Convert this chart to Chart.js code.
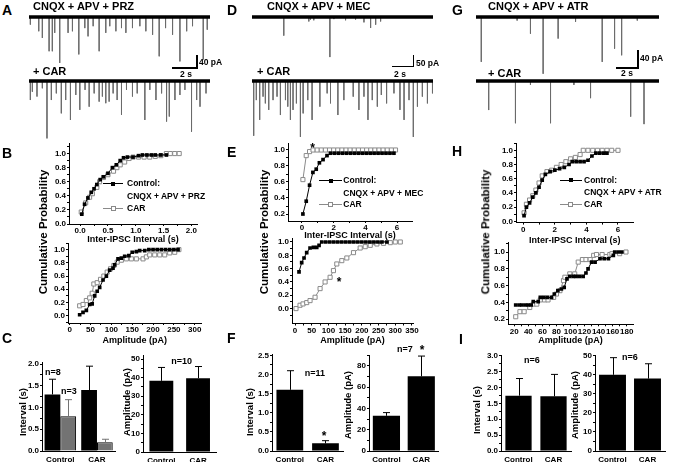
<!DOCTYPE html>
<html>
<head>
<meta charset="utf-8">
<script src="https://cdn.jsdelivr.net/npm/chart.js@4.4.1/dist/chart.umd.min.js"></script>
<style>
  body { margin: 0; background: #fff; }
  #fig { position: relative; width: 683px; height: 462px; overflow: hidden;
         font-family: "Liberation Sans", Arial, sans-serif; font-weight: bold; color: #000; }
  .t { position: absolute; white-space: nowrap; line-height: 1; }
  canvas { position: absolute; }
  .k { position: absolute; }
</style>
</head>
<body>
<div id="fig"></div>
<script>
'use strict';
// ---- sIPSC traces: event times (s) and amplitudes (pA) ----
const aTopTimes = [0.11,0.78,1.07,1.61,1.87,2.06,2.46,3.13,3.48,3.99,4.47,4.73,5.14,5.62,6.15,6.47,6.96,7.41,7.76,8.29,8.88,9.36,9.9,10.43,10.94,11.5,12.09,12.63,13.1,13.96,14.28];
const aTopAmps  = [24,45,66,108,108,50,145,50,45,118,35,61,29,108,50,29,45,35,50,35,29,45,56,124,35,56,140,45,29,134,40];
const aBotTimes = [0.11,0.27,0.64,1.07,1.44,1.79,2.19,2.59,2.94,3.32,3.75,4.07,4.49,4.82,5.22,5.62,5.88,6.15,6.42,6.74,7.06,7.41,7.81,8.29,8.67,9.28,9.68,10.17,10.62,11.02,11.24,11.69,12.09,12.49,13.02,13.43,13.7,14.18];
const aBotAmps  = [60,34,49,23,181,60,39,102,60,123,44,91,28,81,39,65,49,70,65,39,60,107,28,49,39,123,28,60,39,128,112,60,44,28,160,60,81,39];
const dTopTimes = [3.02,5.4,5.56,5.87,7.4,7.78,8.89,9.84,10.64,11.27,11.75,12.22];
const dTopAmps  = [80,19,11,14,172,9,14,11,23,47,33,19];
const dBotTimes = [0.16,0.41,0.73,1.05,1.27,1.59,2.0,2.38,2.7,3.18,3.4,3.65,3.9,4.22,4.6,4.86,5.3,5.71,6.45,7.14,7.46,8.16,8.73,9.62,10.16,10.64,11.02,11.43,11.91,12.29,12.79,13.49,14.06,14.45,14.92,15.33,15.72,16.19,16.67,17.15];
const dBotAmps  = [235,82,167,67,96,124,82,67,146,82,110,167,124,96,240,139,82,167,110,53,96,146,82,67,124,67,167,82,110,60,96,53,124,167,82,240,110,67,96,53];
const gTopTimes = [0.48,3.73,4.94,6.09,7.45,9.03,11.45,12.57,13.21,14.63];
const gTopAmps  = [102,8,38,129,49,11,102,72,87,8];
const gBotTimes = [1.15,3.58,4.94,6.76,8.88,10.39,14.03,15.24];
const gBotAmps  = [66,96,9,96,9,39,81,98];

// ---- cumulative distributions ----
const bIntCtrlX = [0.03,0.08,0.14,0.2,0.25,0.3,0.36,0.42,0.5,0.58,0.65,0.72,0.78,0.85,0.95,1.05,1.12,1.2,1.28,1.35,1.45,1.55];
const bIntCtrlY = [0.14,0.28,0.37,0.45,0.5,0.56,0.63,0.67,0.72,0.8,0.84,0.9,0.94,0.95,0.95,0.97,0.98,0.98,0.98,0.98,0.98,0.98];
const bIntCarX  = [0.02,0.1,0.17,0.22,0.3,0.35,0.42,0.5,0.6,0.66,0.72,0.8,0.88,0.95,1.05,1.15,1.25,1.35,1.45,1.55,1.62,1.7,1.78];
const bIntCarY  = [0.17,0.3,0.38,0.43,0.52,0.6,0.66,0.7,0.75,0.8,0.84,0.88,0.93,0.95,0.95,0.95,0.95,0.96,0.97,1,1,1,1];
const bAmpCtrlX = [24,32,40,48,54,60,66,72,80,88,96,104,108,116,124,132,142,150,160,168,180,190,200,210,220,230,240,250,260];
const bAmpCtrlY = [0.015,0.05,0.08,0.17,0.18,0.3,0.37,0.43,0.54,0.6,0.69,0.72,0.77,0.86,0.87,0.9,0.91,0.96,0.97,0.985,0.985,1,1,1,1,1,1,1,1];
const bAmpCarX  = [24,32,40,48,54,58,66,74,82,90,98,106,114,124,136,148,160,176,184,192,204,216,228,240,252,262];
const bAmpCarY  = [0.15,0.17,0.23,0.27,0.34,0.48,0.5,0.55,0.6,0.66,0.71,0.76,0.81,0.84,0.86,0.86,0.86,0.86,0.89,0.92,0.92,0.92,0.92,0.95,0.96,1];

const eIntCtrlX = [0.06,0.27,0.48,0.69,0.9,1.1,1.33,1.58,1.8,2.05,2.3,2.55,2.8,3.05,3.3,3.55,3.8,4.05,4.3,4.55,4.8,5.05,5.3,5.55,5.8];
const eIntCtrlY = [0.2,0.36,0.56,0.72,0.76,0.84,0.88,0.93,0.96,0.96,0.96,0.96,0.96,0.96,0.96,0.96,0.96,0.96,0.96,0.96,0.96,0.96,0.96,0.96,0.96];
const eIntCarX  = [0.06,0.27,0.48,0.7,0.96,1.22,1.48,1.74,2.0,2.26,2.52,2.78,3.04,3.3,3.56,3.82,4.08,4.34,4.6,4.86,5.12,5.38,5.64,5.9];
const eIntCarY  = [0.63,0.93,0.98,1,1,1,1,1,1,1,1,1,1,1,1,1,1,1,1,1,1,1,1,1];
const eAmpCtrlX = [12,20,27,35,45,55,65,72,80,92,104,116,128,140,152,164,176,188,200,212,224,236,248,260,275];
const eAmpCtrlY = [0.55,0.69,0.76,0.84,0.91,0.92,0.92,0.95,1,1,1,1,1,1,1,1,1,1,1,1,1,1,1,1,1];
const eAmpCarX  = [3,15,24,35,45,60,75,90,105,115,125,140,155,175,195,210,225,245,265,285,300,315];
const eAmpCarY  = [0,0.05,0.07,0.09,0.12,0.17,0.3,0.4,0.47,0.57,0.67,0.72,0.76,0.84,0.91,0.93,0.95,0.97,0.98,0.99,1,1];

const hIntCtrlX = [0.05,0.2,0.4,0.6,0.8,1.0,1.2,1.4,1.7,2.0,2.3,2.6,2.9,3.1,3.35,3.6,3.85,4.1,4.35,4.6,4.85,5.1,5.3];
const hIntCtrlY = [0.08,0.2,0.26,0.34,0.4,0.48,0.58,0.66,0.7,0.72,0.74,0.76,0.8,0.84,0.84,0.84,0.84,0.86,0.92,0.96,0.96,0.96,0.96];
const hIntCarX  = [0.05,0.2,0.4,0.6,0.8,1.0,1.2,1.5,1.8,2.1,2.4,2.7,3.0,3.3,3.6,3.8,4.1,4.4,4.7,5.0,5.3,5.6,6.0];
const hIntCarY  = [0.12,0.24,0.3,0.36,0.44,0.54,0.64,0.7,0.72,0.76,0.8,0.84,0.88,0.9,0.94,1,1,1,1,1,1,1,1];
const hAmpCtrlX = [22,27,31,36,40,44,47,54,57,62,67,73,77,82,87,91,95,99,104,108,113,118,122,125,130,135,142,148,154,161,163,168,173];
const hAmpCtrlY = [0.37,0.37,0.37,0.37,0.37,0.37,0.41,0.41,0.46,0.46,0.46,0.46,0.5,0.54,0.56,0.58,0.68,0.71,0.71,0.71,0.71,0.71,0.75,0.8,0.88,0.88,0.92,0.92,0.92,0.96,1,1,1];
const hAmpCarX  = [22,28,34,42,47,52,57,63,68,76,80,85,90,92,99,106,111,117,122,128,133,137,145,156,159,170,179];
const hAmpCarY  = [0.23,0.29,0.29,0.34,0.38,0.38,0.43,0.43,0.43,0.46,0.5,0.54,0.66,0.7,0.74,0.74,0.88,0.91,0.91,0.91,0.96,0.97,0.97,0.97,0.98,0.98,1];

// ---- bar summaries (mean, SEM) ----
const barCats = ['Control', 'CAR'];
const cIntBlack = [1.3, 1.4],  cIntBlackErr = [0.35, 0.55];
const cIntGray  = [0.8, 0.2],  cIntGrayErr  = [0.38, 0.07];
const cAmp = [38.3, 39.7],     cAmpErr = [7.2, 6.3];
const fInt = [1.6, 0.2],       fIntErr = [0.5, 0.07];
const fAmp = [33, 70],         fAmpErr = [3, 19];
const iInt = [1.74, 1.72],     iIntErr = [0.54, 0.69];
const iAmp = [40, 38],         iAmpErr = [9, 7.8];

// ---- tick labels ----
const probTicks = [0, 0.2, 0.4, 0.6, 0.8, 1.0];
const probTicksH = [0.2, 0.4, 0.6, 0.8, 1.0];
const bIntTicks = [0, 0.5, 1.0, 1.5, 2.0];
const bAmpTicks = [0, 50, 100, 150, 200, 250, 300];
const secTicks = [0, 2, 4, 6];
const eAmpTicks = [0, 50, 100, 150, 200, 250, 300, 350];
const hAmpTicks = [20, 40, 60, 80, 100, 120, 140, 160, 180];
const cIntTicks = [0, 0.5, 1.0, 1.5, 2.0];
const fIntTicks = [0, 0.5, 1.0, 1.5, 2.0, 2.5];
const iIntTicks = [0, 0.5, 1.0, 1.5, 2.0, 2.5, 3.0];
const amp50Ticks = [0, 10, 20, 30, 40, 50];
const amp80Ticks = [0, 20, 40, 60, 80];

const FONT = '"Liberation Sans", Arial, sans-serif';
Chart.defaults.font.family = FONT;
Chart.defaults.font.weight = 'bold';
Chart.defaults.color = '#000';
const fig = document.getElementById('fig');

function label(text, x, cy, size, align, star) {
  const d = document.createElement('div');
  d.className = 't';
  d.textContent = text;
  d.style.fontSize = size + 'px';
  d.style.left = x + 'px';
  d.style.top = (cy - (star ? 0.3 : 0.49) * size) + 'px';
  if (align === 'c') d.style.transform = 'translateX(-50%)';
  fig.appendChild(d);
}
function vlabel(text, cx, cy, size) {
  const d = document.createElement('div');
  d.className = 't';
  d.textContent = text;
  d.style.fontSize = size + 'px';
  d.style.left = cx + 'px';
  d.style.top = cy + 'px';
  d.style.transform = 'translate(-50%,-50%) rotate(-90deg)';
  fig.appendChild(d);
}
function rect(x, y, w, h, bg, border) {
  const d = document.createElement('div');
  d.className = 'k';
  Object.assign(d.style, { left: x + 'px', top: y + 'px', width: w + 'px', height: h + 'px', background: bg });
  if (border) d.style.border = border;
  fig.appendChild(d);
}
function canvasAt(x, y, w, h) {
  const c = document.createElement('canvas');
  c.width = w; c.height = h;
  c.style.left = x + 'px'; c.style.top = y + 'px';
  c.style.width = w + 'px'; c.style.height = h + 'px';
  fig.appendChild(c);
  return c;
}
const quiet = { legend: { display: false }, tooltip: { enabled: false } };

// sIPSC trace: thick baseline plus one downward stroke per event
function trace(x0, x1, baseY, tMax, pxPerPA, times, amps) {
  const H = 64, off = 5;
  const c = canvasAt(x0, baseY - off, Math.round(x1 - x0), H);
  const pts = [];
  times.forEach((t, i) => pts.push({ x: t, y: 0 }, { x: t, y: -amps[i] }, { x: t, y: null }));
  new Chart(c, {
    type: 'line',
    data: { datasets: [
      { data: [{ x: 0, y: 0 }, { x: tMax, y: 0 }], borderColor: '#000', borderWidth: 3.5, pointRadius: 0 },
      { data: pts, borderColor: '#6b6b6b', borderWidth: 0.9, pointRadius: 0, spanGaps: false }
    ] },
    options: {
      responsive: false, animation: false, events: [], plugins: quiet, layout: { padding: 0 },
      scales: {
        x: { type: 'linear', display: false, min: 0, max: tMax },
        y: { type: 'linear', display: false, min: -(H - off) / pxPerPA, max: off / pxPerPA }
      }
    }
  });
}

function allTicks(majors, min, max) {
  const step = majors[1] - majors[0];
  const all = majors.slice();
  for (let v = majors[0] - step / 2; v >= min - 1e-9; v -= step) all.push(v);
  for (let i = 1; i < majors.length; i++) all.push((majors[i - 1] + majors[i]) / 2);
  for (let v = majors[majors.length - 1] + step / 2; v <= max + 1e-9; v += step) all.push(v);
  return all.sort((a, b) => a - b);
}
function linAxis(min, max, majors, dec, size) {
  const all = allTicks(majors, min, max);
  return {
    type: 'linear', min, max,
    afterBuildTicks: s => { s.ticks = all.map(v => ({ value: v })); },
    afterFit: s => { if (s.isHorizontal()) s.height = size; else s.width = size; },
    ticks: {
      autoSkip: false, maxRotation: 0, padding: 1, color: '#000',
      font: { family: FONT, size: 8, weight: 'bold', lineHeight: 1 },
      callback: v => majors.some(m => Math.abs(m - v) < 1e-9) ? v.toFixed(dec) : ''
    },
    grid: { drawOnChartArea: false, color: '#000', tickLength: 2, lineWidth: 1 },
    border: { color: '#000', width: 1 }
  };
}
function xy(xs, ys) { return xs.map((x, i) => ({ x, y: ys[i] })); }

function cumChart(b, xr, xMaj, xDec, yr, yMaj, ctrl, car, xTitle, titleCy) {
  const yW = 26, pt = 8;
  const pw = b.r - b.l, ph = b.b - b.t;
  const W = Math.ceil(pw + yW + 12);
  const H = Math.ceil(ph + pt + (titleCy - b.b) + 5.4);
  const c = canvasAt(b.l - yW, b.t - pt, W, H);
  const x = linAxis(xr[0], xr[1], xMaj, xDec, H - pt - ph);
  x.title = { display: true, text: xTitle, padding: 0, color: '#000',
              font: { family: FONT, size: 9, weight: 'bold', lineHeight: 1.2 } };
  new Chart(c, {
    type: 'line',
    data: { datasets: [
      { data: ctrl, borderColor: '#000', borderWidth: 1, pointStyle: 'rect', pointRadius: 2.6,
        pointBackgroundColor: '#000', pointBorderWidth: 0, clip: 6 },
      { data: car, borderColor: '#8a8a8a', borderWidth: 1, pointStyle: 'rect', pointRadius: 2.9,
        pointBackgroundColor: '#fff', pointBorderColor: '#8a8a8a', pointBorderWidth: 1, clip: 6 }
    ] },
    options: {
      responsive: false, animation: false, events: [], plugins: quiet,
      layout: { padding: { top: pt, right: W - pw - yW, left: 0, bottom: 0 } },
      scales: { x, y: linAxis(yr[0], yr[1], yMaj, 1, yW) }
    }
  });
}

const errorBars = {
  id: 'errorBars',
  afterDatasetsDraw(chart) {
    const ctx = chart.ctx, ys = chart.scales.y;
    chart.data.datasets.forEach((ds, i) => {
      chart.getDatasetMeta(i).data.forEach((bar, j) => {
        const top = ys.getPixelForValue(ds.data[j] + ds.errors[j]);
        const bx = Math.round(bar.x) + 0.5;
        ctx.save();
        ctx.strokeStyle = ds.errColor; ctx.lineWidth = 1;
        ctx.beginPath();
        ctx.moveTo(bx, bar.y); ctx.lineTo(bx, top);
        ctx.moveTo(bx - 3.5, top); ctx.lineTo(bx + 3.5, top);
        ctx.stroke();
        ctx.restore();
      });
    });
  }
};

function barChart(b, yMax, yMaj, yDec, sets, barPct, catPct) {
  const yW = 24, pt = 8, xH = 14;
  const pw = b.r - b.l, ph = b.b - b.t;
  const W = Math.ceil(pw + yW + 6);
  const c = canvasAt(b.l - yW, b.t - pt, W, Math.ceil(ph + pt + xH));
  new Chart(c, {
    type: 'bar',
    data: { labels: barCats, datasets: sets.map(s => ({
      data: s.values, errors: s.errors, errColor: s.errColor, backgroundColor: s.color,
      borderColor: '#000', borderWidth: s.border, barPercentage: barPct, categoryPercentage: catPct
    })) },
    options: {
      responsive: false, animation: false, events: [], plugins: quiet,
      layout: { padding: { top: pt, right: W - pw - yW, left: 0, bottom: 0 } },
      scales: {
        x: { type: 'category',
             afterFit: s => { s.height = xH; },
             ticks: { padding: 5, color: '#000', maxRotation: 0, font: { family: FONT, size: 8, weight: 'bold', lineHeight: 1 } },
             grid: { drawOnChartArea: false, drawTicks: false, color: '#000' },
             border: { color: '#000', width: 1 } },
        y: linAxis(0, yMax, yMaj, yDec, yW)
      }
    },
    plugins: [errorBars]
  });
}
function legendRow(x1, x2, cy, filled, textX, text) {
  rect(x1, cy - 0.5, x2 - x1, 1, filled ? '#000' : '#8a8a8a');
  const m = (x1 + x2) / 2;
  if (filled) rect(m - 2, cy - 2, 4, 4, '#000');
  else rect(m - 2.5, cy - 2.5, 3, 3, '#fff', '1px solid #8a8a8a');
  label(text, textX, cy, 8.5);
}
function scaleBar(x, yTop, yBot, xLeft) {
  rect(x - 0.7, yTop, 1.4, yBot - yTop + 0.7, '#000');
  rect(xLeft, yBot - 0.7, x - xLeft, 1.4, '#000');
}

// ---- A / D / G traces ----
trace(29, 210, 17, 14.5, 0.317, aTopTimes, aTopAmps);
trace(29, 210, 81, 14.5, 0.317, aBotTimes, aBotAmps);
trace(251.7, 432.3, 17.3, 17.2, 0.233, dTopTimes, dTopAmps);
trace(251.7, 432.3, 81, 17.2, 0.233, dBotTimes, dBotAmps);
trace(475.7, 658.3, 16.5, 16.6, 0.44, gTopTimes, gTopAmps);
trace(475.7, 658.3, 81, 16.6, 0.44, gBotTimes, gBotAmps);

label('A', 2, 10, 14); label('D', 227, 10, 14); label('G', 452, 10, 14);
label('CNQX + APV + PRZ', 33, 6, 11);
label('CNQX + APV + MEC', 267, 6.5, 11);
label('CNQX + APV + ATR', 488, 6.5, 11);
label('+ CAR', 33, 71.5, 11); label('+ CAR', 257, 71.5, 11); label('+ CAR', 488, 73, 11);
scaleBar(197, 55, 68, 172);   label('40 pA', 199, 62, 8.5); label('2 s', 186, 74.5, 8.5, 'c');
scaleBar(413.3, 55, 66.7, 392); label('50 pA', 416, 63, 8.5); label('2 s', 400, 74, 8.5, 'c');
scaleBar(638, 50, 68, 616);   label('40 pA', 640, 58.3, 8.5); label('2 s', 627, 73.5, 8.5, 'c');

// ---- B / E / H cumulative plots ----
cumChart({ l: 69, r: 197, t: 143, b: 224 }, [-0.2, 2.1], bIntTicks, 1, [0, 1.15], probTicks,
  xy(bIntCtrlX, bIntCtrlY), xy(bIntCarX, bIntCarY), 'Inter-IPSC Interval (s)', 239);
cumChart({ l: 68.3, r: 201.7, t: 243.3, b: 323.3 }, [-4, 316], bAmpTicks, 0, [-0.11, 1.1], probTicks,
  xy(bAmpCtrlX, bAmpCtrlY), xy(bAmpCarX, bAmpCarY), 'Amplitude (pA)', 340);
cumChart({ l: 288, r: 412, t: 143, b: 221 }, [-0.88, 6.94], secTicks, 0, [0.1125, 1.0875], probTicksH,
  xy(eIntCtrlX, eIntCtrlY), xy(eIntCarX, eIntCarY), 'Inter-IPSC Interval (s)', 235.5);
cumChart({ l: 292, r: 413, t: 237.5, b: 323 }, [-9, 353], eAmpTicks, 0, [-0.224, 1.06], probTicks,
  xy(eAmpCtrlX, eAmpCtrlY), xy(eAmpCarX, eAmpCarY), 'Amplitude (pA)', 340);
cumChart({ l: 516, r: 633.3, t: 142.7, b: 222.3 }, [-0.46, 6.97], secTicks, 0, [-0.018, 1.103], probTicks,
  xy(hIntCtrlX, hIntCtrlY), xy(hIntCarX, hIntCarY), 'Inter-IPSC Interval (s)', 240);
cumChart({ l: 508, r: 633, t: 241.7, b: 324 }, [11, 189], hAmpTicks, 0, [0.14, 1.119], probTicksH,
  xy(hAmpCtrlX, hAmpCtrlY), xy(hAmpCarX, hAmpCarY), 'Amplitude (pA)', 340);

label('B', 2, 153, 14); label('E', 227, 152, 14); label('H', 452, 151, 14);
vlabel('Cumulative Probability', 44, 232, 11.5);
vlabel('Cumulative Probability', 265, 232, 11.5);
vlabel('Cumulative Probability', 486, 232, 11.5);
legendRow(103, 123, 183.5, true, 127, 'Control:');  label('CNQX + APV + PRZ', 127, 196.5, 8.5);
legendRow(103, 123, 208, false, 127, 'CAR');
legendRow(319.3, 341.7, 180.5, true, 343.3, 'Control:'); label('CNQX + APV + MEC', 343.3, 193, 8.5);
legendRow(319.3, 341.7, 204.5, false, 343.3, 'CAR');
legendRow(560, 581.7, 180, true, 584, 'Control:'); label('CNQX + APV + ATR', 584, 192, 8.5);
legendRow(560, 581.7, 204, false, 584, 'CAR');
label('*', 312.5, 145.5, 12, 'c', true);
label('*', 339, 280, 12, 'c', true);

// ---- C / F / I bar summaries ----
barChart({ l: 41.7, r: 115, t: 362, b: 450.7 }, 2.046, cIntTicks, 1, [
  { values: cIntBlack, errors: cIntBlackErr, color: '#000', errColor: '#000', border: 0 },
  { values: cIntGray, errors: cIntGrayErr, color: '#737373', errColor: '#737373', border: 1 }
], 1, 0.86);
barChart({ l: 143.3, r: 216.7, t: 355, b: 451.7 }, 52.2, amp50Ticks, 0, [
  { values: cAmp, errors: cAmpErr, color: '#000', errColor: '#000', border: 0 }], 0.65, 1);
barChart({ l: 271.7, r: 343, t: 354.3, b: 451 }, 2.537, fIntTicks, 1, [
  { values: fInt, errors: fIntErr, color: '#000', errColor: '#000', border: 0 }], 0.75, 1);
barChart({ l: 369.3, r: 439, t: 355, b: 451 }, 90, amp80Ticks, 0, [
  { values: fAmp, errors: fAmpErr, color: '#000', errColor: '#000', border: 0 }], 0.78, 1);
barChart({ l: 500.7, r: 570.7, t: 355, b: 451 }, 3.02, iIntTicks, 1, [
  { values: iInt, errors: iIntErr, color: '#000', errColor: '#000', border: 0 }], 0.75, 1);
barChart({ l: 595, r: 665, t: 355, b: 451 }, 50.4, amp50Ticks, 0, [
  { values: iAmp, errors: iAmpErr, color: '#000', errColor: '#000', border: 0 }], 0.77, 1);

label('C', 2, 338, 14); label('F', 227, 338, 14); label('I', 459, 339, 14);
vlabel('Interval (s)', 23, 412, 9.5);
vlabel('Amplitude (pA)', 126.5, 402, 9.5);
vlabel('Interval (s)', 250, 412, 9.5);
vlabel('Amplitude (pA)', 348, 405, 9.5);
vlabel('Interval (s)', 477, 410, 9.5);
vlabel('Amplitude (pA)', 575, 405, 9.5);
label('n=8', 53, 372, 9, 'c'); label('n=3', 69, 391, 9, 'c');
label('n=10', 181.7, 361.7, 9, 'c');
label('n=11', 315, 373, 9, 'c'); label('*', 324, 434, 12, 'c', true);
label('n=7', 405, 349, 9, 'c'); label('*', 422, 348, 12, 'c', true);
label('n=6', 532, 360, 9, 'c'); label('n=6', 630, 357, 9, 'c');
</script>
</body>
</html>
